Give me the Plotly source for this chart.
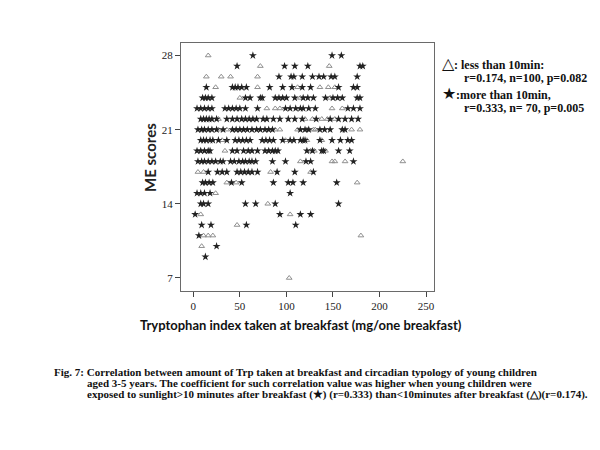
import plotly.graph_objects as go

# Triangles: exposed to sunlight < 10 min after breakfast
tri_x = [16,
         72, 146,
         14, 30, 40, 69,
         24, 69, 112, 136, 145, 152,
         50, 115, 147,
         79, 88, 93, 149, 160,
         27, 120, 128, 138, 144, 152,
         27, 36, 88, 93, 112, 122, 129, 131, 170, 179,
         31, 99, 122, 138,
         34, 126, 130, 142,
         115, 149, 152, 163, 225,
         5, 11, 83, 126,
         36, 46, 176,
         24,
         80,
         8, 104,
         47,
         11, 16, 21, 180,
         9,
         103]
tri_y = [28,
         27, 27,
         26, 26, 26, 26,
         25, 25, 25, 25, 25, 25,
         24, 24, 24,
         23, 23, 23, 23, 23,
         22, 22, 22, 22, 22, 22,
         21, 21, 21, 21, 21, 21, 21, 21, 21, 21,
         20, 20, 20, 20,
         19, 19, 19, 19,
         18, 18, 18, 18, 18,
         17, 17, 17, 17,
         16, 16, 16,
         15,
         14,
         13, 13,
         12,
         11, 11, 11, 11,
         10,
         7]

# Stars: exposed to sunlight > 10 min after breakfast
star_rows = [28, 27, 26, 25, 24, 23, 22, 21, 20, 19, 18, 17, 16, 15, 14, 13, 12, 11, 10, 9]
star_vals = [
    [64, 149, 159],
    [47, 98, 109, 123, 179, 182],
    [92, 105, 108, 117, 128, 135, 140, 148, 152, 176],
    [14, 42, 45, 48, 52, 57, 82, 96, 106, 117, 126, 156, 172, 176],
    [10, 13, 16, 20, 56, 61, 72, 74, 88, 92, 96, 100, 109, 118, 123, 129, 142, 150, 155, 160, 176, 179],
    [4, 8, 12, 16, 20, 34, 38, 42, 46, 50, 56, 69, 99, 104, 110, 115, 118, 124, 131, 166, 172, 179],
    [8, 11, 14, 17, 20, 25, 36, 42, 47, 52, 56, 60, 64, 68, 75, 79, 86, 93, 102, 109, 117, 132, 147, 156, 163, 170, 177],
    [5, 9, 12, 16, 20, 25, 32, 42, 46, 50, 54, 58, 63, 68, 72, 77, 81, 85, 115, 120, 124, 136, 141, 147, 160, 163],
    [8, 11, 14, 18, 21, 27, 36, 45, 49, 53, 57, 61, 74, 78, 82, 86, 96, 104, 108, 115, 118, 120, 136, 149, 158, 166, 170],
    [4, 8, 12, 16, 18, 42, 47, 54, 59, 63, 69, 77, 81, 85, 88, 91, 122, 128, 138, 140, 156, 168],
    [5, 9, 12, 16, 20, 24, 29, 32, 40, 44, 49, 53, 56, 60, 63, 67, 85, 99, 121, 126, 172],
    [16, 26, 31, 36, 47, 51, 55, 59, 63, 69, 90, 109, 129],
    [10, 13, 17, 21, 41, 52, 86, 102, 107, 118, 154],
    [4, 8, 12, 18, 104],
    [8, 11, 16, 56, 67, 88, 156],
    [2, 93, 115, 126],
    [9, 19, 57, 110],
    [6],
    [25],
    [13],
]
star_x = [v for vals in star_vals for v in vals]
star_y = [r for r, vals in zip(star_rows, star_vals) for _ in vals]

x_ticks = [0, 50, 100, 150, 200, 250]
y_ticks = [7, 14, 21, 28]

fig = go.Figure()
fig.add_trace(go.Scatter(x=tri_x, y=tri_y, mode="markers",
                         marker=dict(symbol="triangle-up-open", size=5,
                                     color="#8f8f8f", line=dict(width=1, color="#8f8f8f")),
                         showlegend=False, hoverinfo="skip"))
fig.add_trace(go.Scatter(x=star_x, y=star_y, mode="markers",
                         marker=dict(symbol="star", size=6, color="#222222",
                                     line=dict(width=0)),
                         showlegend=False, hoverinfo="skip"))

axis_common = dict(showline=True, linecolor="#6a6a6a", linewidth=1, mirror=True,
                   showgrid=False, zeroline=False, ticks="outside", ticklen=5,
                   tickcolor="#444", tickwidth=1,
                   tickfont=dict(family="Liberation Serif", size=11, color="#222"))
fig.update_xaxes(range=[-13.2, 258.5], tickvals=x_ticks, **axis_common)
fig.update_yaxes(range=[5.77, 29.18], tickvals=y_ticks, **axis_common)

anns = []
anns.append(dict(text="<b>ME scores</b>", x=150, y=158, textangle=-90,
                 font=dict(family="Lato", size=15, color="#222")))
anns.append(dict(text="<b>Tryptophan index taken at breakfast (mg/one breakfast)</b>",
                 x=301, y=325, font=dict(family="Lato", size=13, color="#111")))

leg_font = dict(family="Liberation Serif", size=12, color="#111")
anns.append(dict(text="<span style='font-size:16px'>△</span><b>: less than 10min:</b>",
                 x=440, y=63, xanchor="left", font=leg_font))
anns.append(dict(text="<b>r=0.174, n=100, p=0.082</b>", x=462, y=78, xanchor="left", font=leg_font))
anns.append(dict(text="<span style='font-size:16px'>★</span><b>:more than 10min,</b>",
                 x=440, y=93, xanchor="left", font=leg_font))
anns.append(dict(text="<b>r=0.333, n= 70, p=0.005</b>", x=462, y=108, xanchor="left", font=leg_font))

cap_font = dict(family="Liberation Serif", size=11, color="#111")
anns.append(dict(text="<b>Fig. 7: Correlation between amount of Trp taken at breakfast and circadian typology of young children</b>",
                 x=52, y=372, xanchor="left", font=cap_font))
anns.append(dict(text="<b>aged 3-5 years. The coefficient for such correlation value was higher when young children were</b>",
                 x=85, y=383, xanchor="left", font=cap_font))
anns.append(dict(text="<b>exposed to sunlight>10 minutes after breakfast (★) (r=0.333) than<10minutes after breakfast (△)(r=0.174).</b>",
                 x=85, y=394, xanchor="left", font=cap_font))

# The page body adds an 8px margin, so the figure is drawn 8px smaller and shifted.
OFF = 8
W, H = 600 - OFF, 450 - OFF
L, T = 181 - OFF, 43 - OFF
pw, ph = 253, 248
R, B = W - L - pw, H - T - ph

for a in anns:
    px = a["x"] - OFF
    py = a["y"] - OFF
    a["x"] = (px - L) / pw
    a["y"] = 1 - (py - T) / ph
    a.setdefault("xanchor", "center")
    a["yanchor"] = "middle"
    a["xref"] = "paper"
    a["yref"] = "paper"
    a["showarrow"] = False

fig.update_layout(width=W, height=H, margin=dict(l=L, r=R, t=T, b=B, autoexpand=False),
                  plot_bgcolor="white", paper_bgcolor="white", annotations=anns)
fig.write_html("out.html")
